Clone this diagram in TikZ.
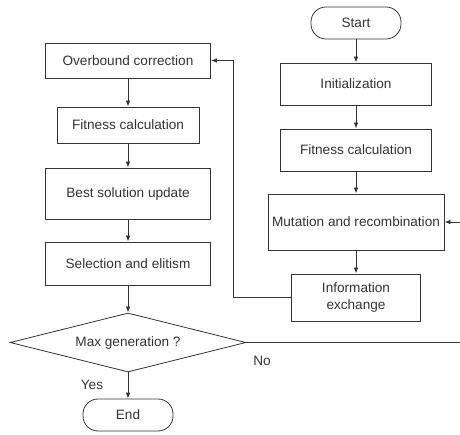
\documentclass[tikz,border=0pt]{standalone}
\usepackage{fontspec}
\setmainfont{Liberation Sans}
\usetikzlibrary{shapes.geometric,arrows.meta}
\definecolor{ink}{HTML}{333333}
\tikzset{
  x=1pt,y=-1pt,
  box/.style={draw=ink,line width=0.8pt,rectangle,inner sep=0pt,text=ink,font=\fontsize{13.6}{17}\selectfont,align=center},
  term/.style={box,rounded corners=15pt},
  dec/.style={box,diamond,aspect=4},
  lbl/.style={text=ink,font=\fontsize{13.6}{17}\selectfont,inner sep=0pt},
  conn/.style={draw=ink,line width=0.8pt},
  arr/.style={conn,-{Latex[length=6pt,width=4.5pt]}}
}
\begin{document}
\begin{tikzpicture}
\useasboundingbox (0,0) rectangle (460,435);
% left column
\node[box,minimum width=165pt,minimum height=35pt] (over) at (128,60.5) {Overbound correction};
\node[box,minimum width=142pt,minimum height=36pt] (fit1) at (128,125) {Fitness calculation};
\node[box,minimum width=165pt,minimum height=51pt] (best) at (128,193.5) {Best solution update};
\node[box,minimum width=165pt,minimum height=43pt] (sel) at (128,263.5) {Selection and elitism};
\node[dec,minimum width=236pt,minimum height=59pt] (dia) at (128,342.5) {Max generation ?};
\node[term,minimum width=90pt,minimum height=32pt] (end) at (128,415) {End};
% right column
\node[term,minimum width=90pt,minimum height=32pt] (start) at (356,23) {Start};
\node[box,minimum width=151pt,minimum height=42pt] (init) at (356,84) {Initialization};
\node[box,minimum width=151pt,minimum height=42pt] (fit2) at (356,150) {Fitness calculation};
\node[box,minimum width=176pt,minimum height=56pt] (mut) at (356,222) {Mutation and recombination};
\node[box,minimum width=129pt,minimum height=47pt] (info) at (356,297.5) {Information\\exchange};
% labels
\node[lbl] (yes) at (92,385) {Yes};
\node[lbl] (no) at (262,361) {No};
% free ends
\coordinate (noend) at (460,342.5);
\coordinate (inend) at (460,222);
\coordinate (loopx) at (233,0);
% connectors
\draw[arr] (start) -- (init);
\draw[arr] (init) -- (fit2);
\draw[arr] (fit2) -- (mut);
\draw[arr] (mut) -- (info);
\draw[arr] (over) -- (fit1);
\draw[arr] (fit1) -- (best);
\draw[arr] (best) -- (sel);
\draw[arr] (sel) -- (dia);
\draw[arr] (dia) -- (end);
\draw[conn] (dia.east) -- (noend);
\draw[arr] (inend) -- (mut.east);
\draw[arr] (info.west) -| (loopx |- over.east) -- (over.east);
\end{tikzpicture}
\end{document}
